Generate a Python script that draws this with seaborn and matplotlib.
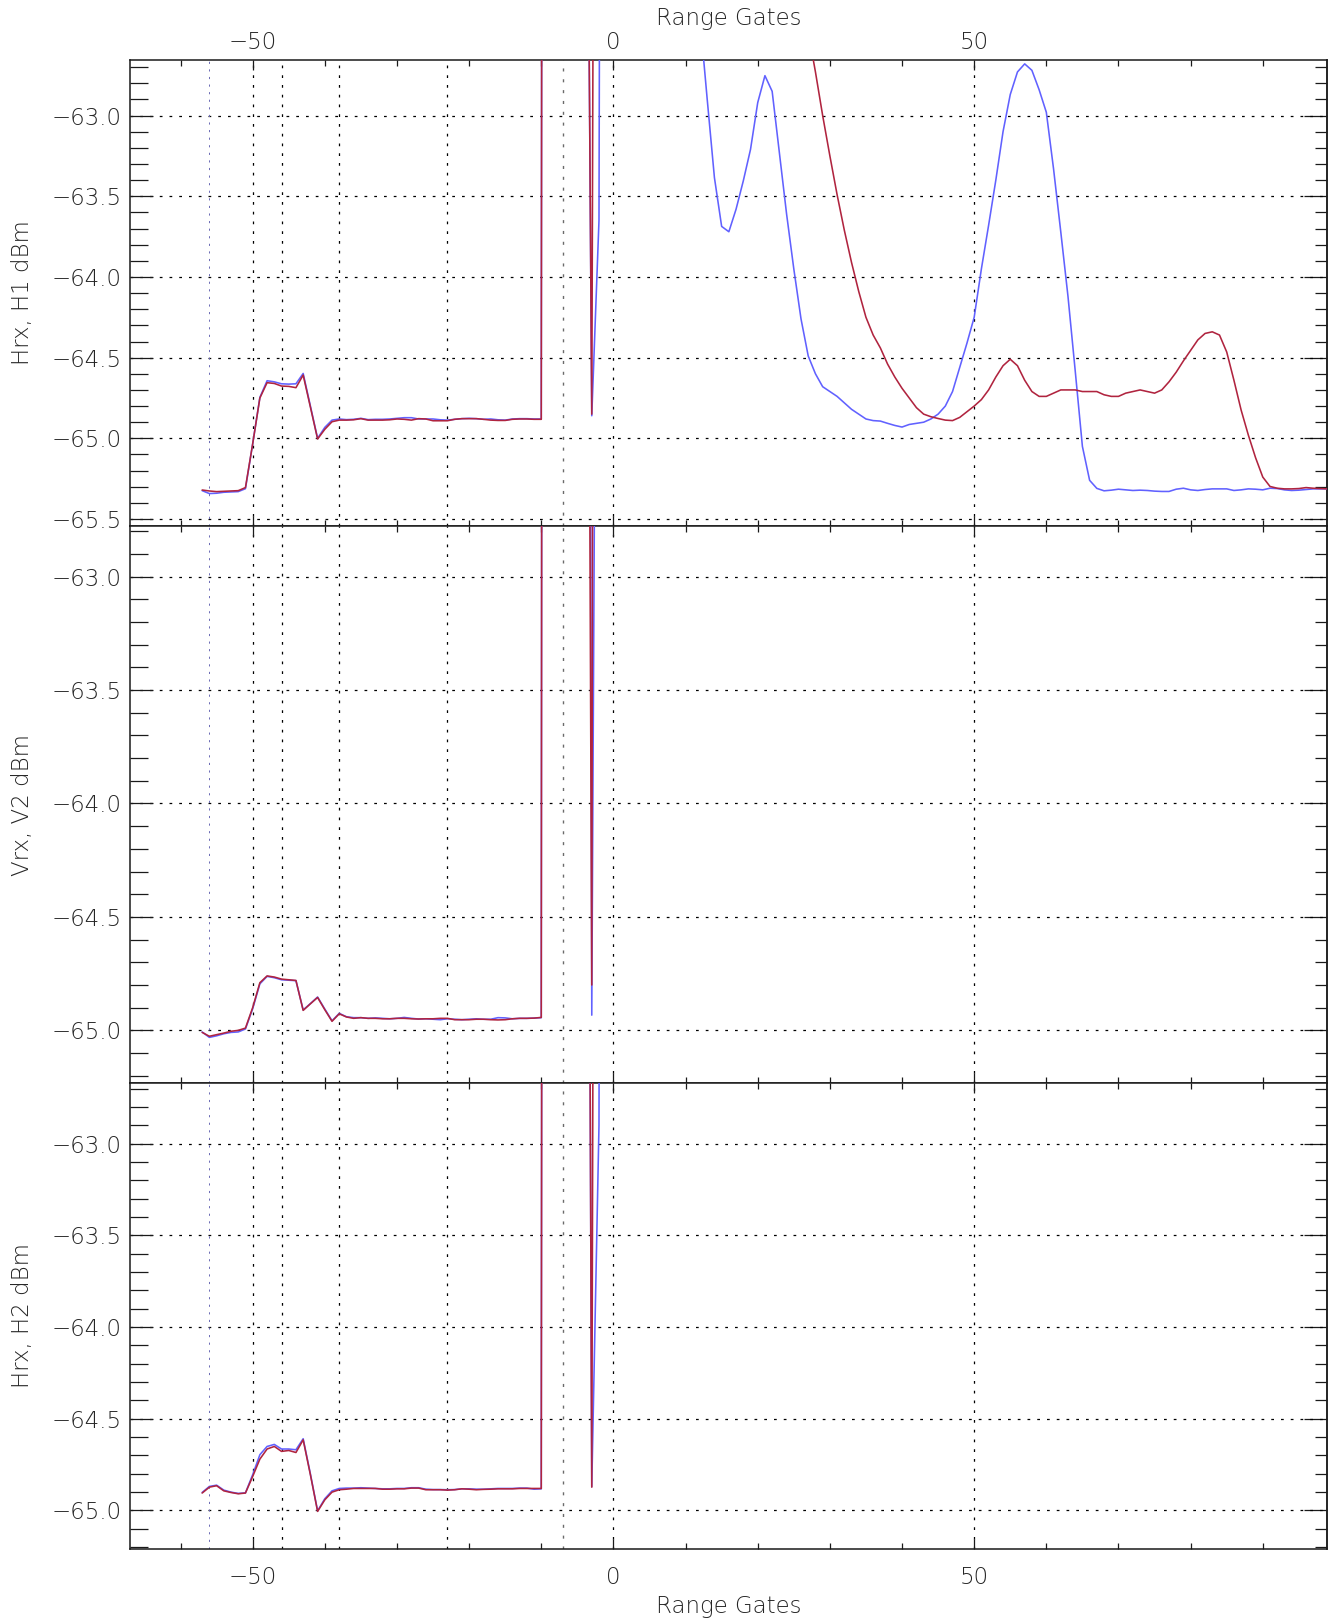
import numpy as np
import pandas as pd
import matplotlib
matplotlib.use("Agg")
import matplotlib.pyplot as plt
from matplotlib.ticker import MultipleLocator, FuncFormatter
import seaborn as sns

# ---------------------------------------------------------------- data
# Range gates of the full H1 record and of the shorter V2 / H2 records
gates_h1 = list(range(-57, 100))
gates_short = list(range(-57, 0))

# Hrx, H1 receiver power (dBm) - scan A (blue) and scan B (red)
h1_scan_a = [
    -65.324, -65.342, -65.340, -65.334, -65.332, -65.330, -65.312, -65.035, -64.746, -64.643,
    -64.650, -64.662, -64.664, -64.662, -64.598, -64.800, -65.000, -64.932, -64.887, -64.880,
    -64.884, -64.882, -64.876, -64.884, -64.882, -64.882, -64.880, -64.876, -64.872, -64.872,
    -64.880, -64.880, -64.880, -64.885, -64.887, -64.882, -64.878, -64.876, -64.878, -64.882,
    -64.880, -64.885, -64.887, -64.880, -64.878, -64.878, -64.880, -64.880, -22.0, -18.5,
    -17.0, -18.0, -21.0, -58.6, -64.860, -63.650, -45.0, -38.0, -35.0, -35.5,
    -37.5, -40.5, -44.0, -47.5, -51.0, -54.5, -57.5, -60.0, -61.6, -62.40,
    -62.90, -63.385, -63.687, -63.720, -63.580, -63.405, -63.210, -62.920, -62.753, -62.850,
    -63.230, -63.610, -63.950, -64.260, -64.490, -64.600, -64.680, -64.710, -64.740, -64.780,
    -64.820, -64.850, -64.880, -64.890, -64.893, -64.907, -64.920, -64.930, -64.914, -64.907,
    -64.900, -64.880, -64.850, -64.800, -64.710, -64.560, -64.410, -64.250, -63.950, -63.680,
    -63.400, -63.100, -62.870, -62.730, -62.680, -62.720, -62.840, -62.980, -63.330, -63.720,
    -64.120, -64.580, -65.050, -65.260, -65.310, -65.325, -65.321, -65.315, -65.319, -65.323,
    -65.321, -65.323, -65.327, -65.329, -65.329, -65.315, -65.309, -65.319, -65.323, -65.317,
    -65.313, -65.313, -65.313, -65.323, -65.319, -65.313, -65.315, -65.319, -65.309, -65.311,
    -65.319, -65.323, -65.321, -65.317, -65.313, -65.313, -65.313,
]
h1_scan_b = [
    -65.320, -65.326, -65.330, -65.328, -65.326, -65.324, -65.305, -65.035, -64.750, -64.655,
    -64.660, -64.676, -64.678, -64.686, -64.608, -64.806, -65.004, -64.944, -64.897, -64.887,
    -64.887, -64.885, -64.878, -64.887, -64.887, -64.887, -64.885, -64.880, -64.882, -64.887,
    -64.878, -64.880, -64.891, -64.891, -64.891, -64.882, -64.878, -64.878, -64.878, -64.882,
    -64.887, -64.889, -64.889, -64.882, -64.880, -64.880, -64.882, -64.882, -21.5, -18.0,
    -16.5, -17.5, -20.5, -58.6, -64.850, -51.0, -40.0, -35.0, -33.0, -33.5,
    -35.0, -37.0, -39.5, -42.0, -44.5, -47.0, -49.5, -52.0, -53.6, -55.0,
    -56.2, -57.2, -58.0, -58.7, -59.3, -59.8, -60.2, -60.6, -60.95, -61.25,
    -61.50, -61.75, -62.00, -62.25, -62.48, -62.73, -63.00, -63.25, -63.49, -63.71,
    -63.91, -64.09, -64.25, -64.36, -64.44, -64.54, -64.62, -64.69, -64.75, -64.81,
    -64.850, -64.866, -64.877, -64.887, -64.890, -64.870, -64.835, -64.800, -64.760, -64.700,
    -64.620, -64.550, -64.510, -64.550, -64.640, -64.710, -64.740, -64.740, -64.720, -64.700,
    -64.700, -64.700, -64.710, -64.710, -64.710, -64.730, -64.740, -64.740, -64.720, -64.710,
    -64.700, -64.710, -64.720, -64.700, -64.650, -64.590, -64.520, -64.455, -64.390, -64.350,
    -64.340, -64.360, -64.465, -64.640, -64.825, -64.980, -65.120, -65.240, -65.298, -65.309,
    -65.313, -65.313, -65.311, -65.305, -65.309, -65.311, -65.313,
]

# Vrx, V2 receiver power (dBm)
v2_scan_a = [
    -65.007, -65.031, -65.024, -65.015, -65.009, -65.007, -64.994, -64.905, -64.795, -64.762,
    -64.768, -64.777, -64.779, -64.781, -64.910, -64.882, -64.853, -64.906, -64.958, -64.925,
    -64.940, -64.944, -64.944, -64.947, -64.945, -64.947, -64.949, -64.947, -64.943, -64.947,
    -64.950, -64.949, -64.951, -64.953, -64.949, -64.951, -64.953, -64.951, -64.949, -64.951,
    -64.951, -64.944, -64.945, -64.949, -64.947, -64.947, -64.946, -64.944, -24.5, -20.5,
    -19.0, -20.0, -23.0, -50.0, -64.933, -58.8, -44.0,
]
v2_scan_b = [
    -65.009, -65.026, -65.019, -65.012, -65.004, -65.000, -64.990, -64.900, -64.790, -64.760,
    -64.765, -64.774, -64.777, -64.780, -64.912, -64.883, -64.855, -64.909, -64.960, -64.927,
    -64.941, -64.947, -64.944, -64.947, -64.947, -64.949, -64.949, -64.947, -64.947, -64.949,
    -64.950, -64.949, -64.949, -64.947, -64.947, -64.953, -64.953, -64.953, -64.951, -64.951,
    -64.953, -64.954, -64.953, -64.949, -64.947, -64.947, -64.946, -64.943, -24.0, -20.0,
    -18.5, -19.5, -22.5, -57.0, -64.800, -45.0, -40.0,
]

# Hrx, H2 receiver power (dBm)
h2_scan_a = [
    -64.902, -64.869, -64.862, -64.889, -64.900, -64.907, -64.904, -64.805, -64.696, -64.651,
    -64.640, -64.665, -64.665, -64.669, -64.609, -64.800, -65.002, -64.936, -64.893, -64.880,
    -64.878, -64.878, -64.876, -64.878, -64.880, -64.882, -64.882, -64.880, -64.880, -64.876,
    -64.876, -64.884, -64.886, -64.886, -64.887, -64.886, -64.882, -64.882, -64.884, -64.884,
    -64.882, -64.880, -64.880, -64.880, -64.878, -64.878, -64.884, -64.882, -23.5, -19.5,
    -18.0, -19.0, -22.0, -55.0, -64.870, -62.900, -45.0,
]
h2_scan_b = [
    -64.905, -64.873, -64.865, -64.893, -64.902, -64.909, -64.905, -64.815, -64.720, -64.665,
    -64.651, -64.678, -64.673, -64.684, -64.615, -64.805, -65.005, -64.942, -64.900, -64.887,
    -64.884, -64.880, -64.880, -64.880, -64.880, -64.884, -64.884, -64.882, -64.882, -64.878,
    -64.878, -64.887, -64.887, -64.887, -64.889, -64.887, -64.882, -64.884, -64.887, -64.885,
    -64.884, -64.882, -64.882, -64.882, -64.880, -64.880, -64.880, -64.880, -23.0, -19.0,
    -17.5, -18.5, -21.5, -55.0, -64.873, -50.0, -40.0,
]

panel_labels = ["Hrx, H1 dBm", "Vrx, V2 dBm", "Hrx, H2 dBm"]
xlabel_text = "Range Gates"
marker_gates = [-46, -38, -23]
pulse_gate = -7
reference_gate = -56

# ---------------------------------------------------------------- style
sns.set_style("white")
plt.rcParams["font.family"] = ["DejaVu Sans"]
plt.rcParams["axes.unicode_minus"] = True

BLUE = "#6161ff"
RED = "#b0243f"
DOT = (0, (2.2, 5.6))
FS = 16.5
FW = "light"


def fmt_db(v, _pos):
    return f"{v:.1f}".replace("-", "\u2212")


def fmt_gate(v, _pos):
    return f"{v:.0f}".replace("-", "\u2212")


W, H = 1335, 1622
fig = plt.figure(figsize=(W / 100, H / 100), dpi=100)

x_left, x_right = 130, 1327
rows = [(60, 526), (526, 1083), (1083, 1549)]
ylims = [(-65.543, -62.656), (-65.232, -62.777), (-65.21, -62.670)]
xlim = (-67.0, 98.9)

panels = [
    (gates_h1, h1_scan_a, h1_scan_b),
    (gates_short, v2_scan_a, v2_scan_b),
    (gates_short, h2_scan_a, h2_scan_b),
]

for i, ((top, bot), (gx, a, b)) in enumerate(zip(rows, panels)):
    ax = fig.add_axes([x_left / W, 1 - bot / H, (x_right - x_left) / W, (bot - top) / H])
    n = len(gx)
    df = pd.DataFrame({
        "gate": list(gx) * 2,
        "dBm": list(a) + list(b),
        "scan": ["A"] * n + ["B"] * n,
    })
    sns.lineplot(data=df, x="gate", y="dBm", hue="scan", hue_order=["A", "B"],
                 palette={"A": BLUE, "B": RED}, estimator=None, sort=False,
                 legend=False, linewidth=1.15, ax=ax, zorder=3)

    ax.set_xlim(*xlim)
    ax.set_ylim(*ylims[i])

    # dotted grid and gate markers
    ax.grid(True, which="major", axis="both", color="black", linestyle=DOT, linewidth=0.9)
    for g in marker_gates:
        ax.axvline(g, color="black", linestyle=DOT, linewidth=0.9, zorder=1)
    ax.axvline(pulse_gate, color="#6b6b6b", linestyle=DOT, linewidth=1.0, zorder=1)
    ax.axvline(reference_gate, color="#6a6ab4", linestyle=DOT, linewidth=0.7, zorder=1)

    for s in ax.spines.values():
        s.set_color("#1a1a1a")
        s.set_linewidth(1.1)

    ax.xaxis.set_major_locator(MultipleLocator(50))
    ax.xaxis.set_minor_locator(MultipleLocator(10))
    ax.xaxis.set_major_formatter(FuncFormatter(fmt_gate))
    ax.yaxis.set_major_locator(MultipleLocator(0.5))
    ax.yaxis.set_minor_locator(MultipleLocator(0.1))
    ax.yaxis.set_major_formatter(FuncFormatter(fmt_db))

    ax.tick_params(axis="x", which="both", direction="in", top=True, bottom=True,
                   width=0.9, color="#1a1a1a", labelsize=FS,
                   labeltop=(i == 0), labelbottom=(i == 2))
    ax.tick_params(axis="x", which="major", length=7.5, pad=12 if i == 2 else 4)
    ax.tick_params(axis="x", which="minor", length=4.5)
    ax.tick_params(axis="y", which="both", direction="in", left=True, right=False,
                   width=0.9, color="#1a1a1a", labelsize=FS)
    ax.tick_params(axis="y", which="major", length=16.5, pad=6)
    ax.tick_params(axis="y", which="minor", length=13)
    for lab in ax.get_xticklabels() + ax.get_yticklabels():
        lab.set_fontweight(FW)

    # right-hand ticks are shorter
    sec = ax.secondary_yaxis("right")
    sec.yaxis.set_major_locator(MultipleLocator(0.5))
    sec.yaxis.set_minor_locator(MultipleLocator(0.1))
    sec.tick_params(axis="y", which="both", direction="in", labelright=False,
                    width=0.9, color="#1a1a1a")
    sec.tick_params(axis="y", which="major", length=16.5)
    sec.tick_params(axis="y", which="minor", length=8.5)
    sec.spines["right"].set_linewidth(1.1)

    ax.set_ylabel(panel_labels[i], fontsize=FS, fontweight=FW)
    ax.yaxis.label.set_va("center")
    ax.yaxis.label.set_ha("center")
    ax.yaxis.set_label_coords((23 - x_left) / (x_right - x_left), 0.5)

    h = bot - top
    if i == 0:
        ax.set_xlabel(xlabel_text, fontsize=FS, fontweight=FW)
        ax.xaxis.set_label_position("top")
        ax.xaxis.label.set_va("center")
        ax.xaxis.set_label_coords(0.5, 1 + (top - 19) / h)
    elif i == 2:
        ax.set_xlabel(xlabel_text, fontsize=FS, fontweight=FW)
        ax.xaxis.label.set_va("center")
        ax.xaxis.set_label_coords(0.5, -(1606 - bot) / h)
    else:
        ax.set_xlabel("")

fig.savefig("out.png", dpi=100)
